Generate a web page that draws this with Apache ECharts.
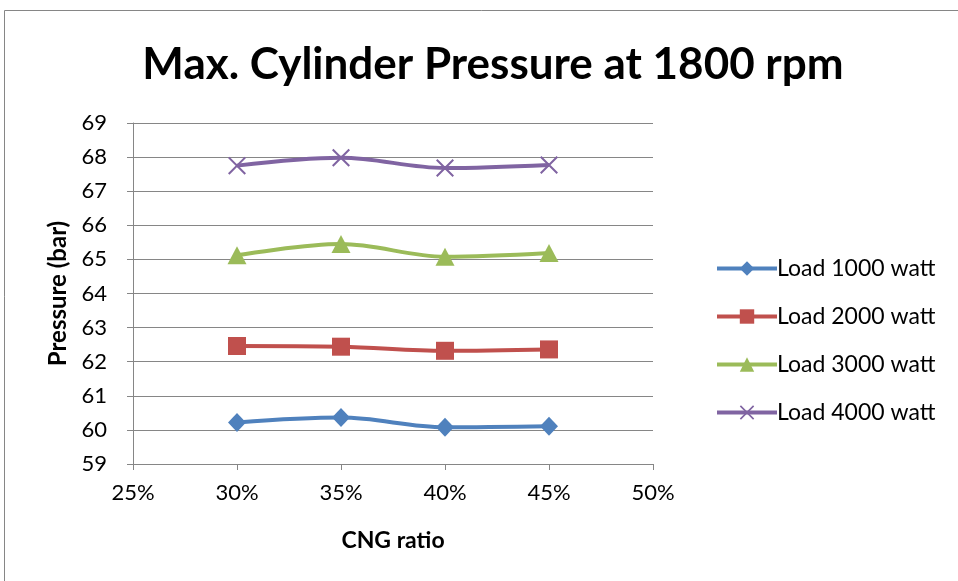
<!DOCTYPE html>
<html><head><meta charset="utf-8">
<script src="https://cdn.jsdelivr.net/npm/echarts@6/dist/echarts.min.js"></script>
<style>html,body{margin:0;padding:0;background:#fff}#c{width:958px;height:581px}</style>
</head><body><div id="c"></div>
<script>
const xValues = [30, 35, 40, 45];
const load1000 = [60.22, 60.36, 60.08, 60.11];
const load2000 = [62.46, 62.44, 62.32, 62.36];
const load3000 = [65.12, 65.45, 65.08, 65.19];
const load4000 = [67.75, 67.98, 67.68, 67.77];
const seriesNames = ['Load 1000 watt', 'Load 2000 watt', 'Load 3000 watt', 'Load 4000 watt'];
const xTicks = {min: 25, max: 50, interval: 5};
const yTicks = {min: 59, max: 69, interval: 1};

const FONT = 'Lato';
const colors = ['#4F81BD', '#C0504D', '#9BBB59', '#8064A2'];
const symbols = ['diamond', 'rect', 'triangle', 'path://M0,0.8 L0.8,0 L10,9.2 L9.2,10 Z M9.2,0 L10,0.8 L0.8,10 L0,9.2 Z'];
const sizes = [[18, 19], 18, [19, 18], 18];
const allData = [load1000, load2000, load3000, load4000];

const chart = echarts.init(document.getElementById('c'), null, {renderer: 'canvas'});
chart.setOption({
  animation: false,
  backgroundColor: '#fff',
  title: {
    text: 'Max. Cylinder Pressure at 1800 rpm',
    left: 488, textAlign: 'center', top: 38,
    textStyle: {fontFamily: FONT, fontWeight: 'bold', fontSize: 44, color: '#000'}
  },
  graphic: [{
    type: 'rect', shape: {x: 4.5, y: 10.5, width: 980, height: 600},
    style: {fill: 'none', stroke: '#868686', lineWidth: 1}, silent: true
  }],
  legend: {
    orient: 'vertical', left: 710, top: 252, itemGap: 25,
    itemWidth: 60, itemHeight: 18,
    lineStyle: {width: 4},
    textStyle: {fontFamily: FONT, fontSize: 23, color: '#000', padding: [0, 0, 0, -5]},
    data: seriesNames
  },
  grid: {left: 133, right: 305, top: 123, bottom: 117, containLabel: false},
  xAxis: {
    type: 'value', min: xTicks.min, max: xTicks.max, interval: xTicks.interval,
    name: 'CNG ratio', nameLocation: 'middle', nameGap: 65,
    nameTextStyle: {fontFamily: FONT, fontWeight: 'bold', fontSize: 23, color: '#000'},
    axisLine: {show: true, lineStyle: {color: '#868686', width: 1}},
    axisTick: {show: true, length: 6, lineStyle: {color: '#868686'}},
    axisLabel: {formatter: v => v + '%', fontFamily: FONT, fontSize: 22, color: '#000', margin: 18},
    splitLine: {show: false}
  },
  yAxis: {
    type: 'value', min: yTicks.min, max: yTicks.max, interval: yTicks.interval,
    name: 'Pressure (bar)', nameLocation: 'middle', nameGap: 61, nameRotate: 90,
    nameTextStyle: {fontFamily: FONT, fontWeight: 'bold', fontSize: 24, color: '#000'},
    axisLine: {show: true, lineStyle: {color: '#868686', width: 1}},
    axisTick: {show: true, length: 6, lineStyle: {color: '#868686'}},
    axisLabel: {fontFamily: FONT, fontSize: 22, color: '#000', margin: 26},
    splitLine: {show: true, lineStyle: {color: '#868686', width: 1}}
  },
  series: seriesNames.map((n, i) => ({
    name: n, type: 'line', smooth: 0.35,
    data: xValues.map((x, j) => [x, allData[i][j]]),
    color: colors[i],
    symbol: symbols[i], symbolSize: sizes[i],
    lineStyle: {width: 4, color: colors[i]},
    itemStyle: {color: colors[i]},
    z: 2 + i
  }))
});
</script></body></html>
